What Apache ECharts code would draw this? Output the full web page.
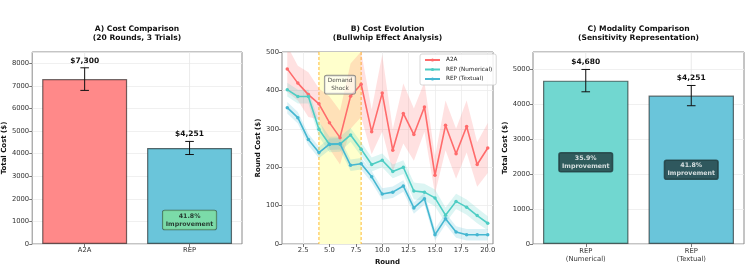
<!DOCTYPE html>
<html><head><meta charset="utf-8">
<script src="https://cdn.jsdelivr.net/npm/echarts@6/dist/echarts.min.js"></script>
<style>html,body{margin:0;padding:0;background:#fff}#c{width:753px;height:274px}</style>
</head><body><div id="c"></div>
<script>
// ---- Panel A data ----
const costCategories = ['A2A', 'REP'];
const costMeans = [7300, 4251];
const costErrors = [500, 290];
const costImprovement = '41.8%';

// ---- Panel B data ----
const rounds = [1,2,3,4,5,6,7,8,9,10,11,12,13,14,15,16,17,18,19,20];
const a2aRound = [456,419,389,365,316,277,385,416,292,393,244,340,285,357,179,309,235,306,207,250];
const a2aStd   = [ 60, 45, 58, 40, 68, 70, 85, 85, 58,100, 55, 78, 68, 65, 48, 65, 65, 68, 58, 65];
const numRound = [402,384,384,299,259,260,284,247,207,218,189,200,138,135,120, 75,111, 96, 74, 54];
const numStd   = [ 18, 18, 18, 20, 20, 20, 18, 18, 18, 18, 18, 18, 22, 22, 22, 20, 20, 20, 20, 18];
const txtRound = [355,329,272,238,260,261,205,209,175,130,135,151, 94,118, 24, 66, 31, 24, 24, 24];
const txtStd   = [ 15, 15, 15, 15, 15, 15, 15, 15, 15, 15, 15, 15, 15, 15, 15, 15, 15, 15, 15, 15];
const roundTicks = [2.5, 5, 7.5, 10, 12.5, 15, 17.5, 20];
const shockStart = 4, shockEnd = 8;

// ---- Panel C data ----
const modalityCategories = ['REP\n(Numerical)', 'REP\n(Textual)'];
const modalityMeans = [4680, 4251];
const modalityErrors = [320, 290];
const modalityImprovement = ['35.9%', '41.8%'];

const FONT = '"DejaVu Sans", "Liberation Sans", sans-serif';
const RED = '#FF6B6B', TEAL = '#4ECDC4', BLUE = '#45B7D1';
const grids = [
  {left: 32, top: 52, width: 210, height: 192},
  {left: 282, top: 52, width: 211, height: 192},
  {left: 533, top: 52, width: 211, height: 192}
].map(g => Object.assign(g, {show: true, borderColor: '#8a8a8a', borderWidth: 1, backgroundColor: '#fff'}));

const tickLabel = {fontSize: 6.8, color: '#333', fontFamily: FONT, margin: 3, formatter: v => String(v)};
const axisTick = {show: true, length: 3, lineStyle: {color: '#555', width: 0.8}};
const splitLine = {show: true, lineStyle: {color: '#ececec', width: 0.8}};
const nameStyle = {fontSize: 7, fontWeight: 'bold', color: '#111', fontFamily: FONT};

function errorSeries(xi, means, errs) {
  return {
    type: 'custom', xAxisIndex: xi, yAxisIndex: xi, z: 6, silent: true,
    data: means.map((m, i) => [i, m, errs[i]]),
    renderItem(params, api) {
      const i = api.value(0), m = api.value(1), e = api.value(2);
      const top = api.coord([i, m + e]);
      const bot = api.coord([i, m - e]);
      const cap = 4.3;
      const st = {stroke: '#111', lineWidth: 1};
      return {type: 'group', children: [
        {type: 'line', shape: {x1: top[0], y1: top[1], x2: bot[0], y2: bot[1]}, style: st},
        {type: 'line', shape: {x1: top[0] - cap, y1: top[1], x2: top[0] + cap, y2: top[1]}, style: st},
        {type: 'line', shape: {x1: bot[0] - cap, y1: bot[1], x2: bot[0] + cap, y2: bot[1]}, style: st},
        {type: 'text', x: top[0], y: top[1] - 3,
          style: {text: '$' + m.toLocaleString('en-US'), textAlign: 'center', textVerticalAlign: 'bottom',
                  font: 'bold 7.5px ' + FONT, fill: '#111'}}
      ]};
    }
  };
}

function boxLabel(xi, points, texts, bg, fg, border) {
  return {
    type: 'scatter', xAxisIndex: xi, yAxisIndex: xi, z: 7, silent: true,
    symbolSize: 0,
    data: points.map((p, k) => ({value: p, label: {formatter: texts[k] + '\nImprovement'}})),
    label: {show: true, position: 'inside', fontSize: 6.3, fontWeight: 'bold', fontFamily: FONT,
      color: fg, backgroundColor: bg, borderColor: border, borderWidth: 0.8, borderRadius: 2,
      padding: [2, 3, 1, 3], lineHeight: 8, align: 'center', verticalAlign: 'middle'}
  };
}

function catGridLines(xi, n) {
  return {
    type: 'custom', xAxisIndex: xi, yAxisIndex: xi, z: 1, silent: true,
    data: Array.from({length: n}, (_, i) => [i]),
    renderItem(params, api) {
      const cs = params.coordSys;
      const p = api.coord([api.value(0), 0]);
      return {type: 'line', shape: {x1: p[0], y1: cs.y, x2: p[0], y2: cs.y + cs.height},
        style: {stroke: '#e6e6e6', lineWidth: 0.8}};
    }
  };
}

function bandSeries(mean, std, color) {
  return {
    type: 'custom', xAxisIndex: 1, yAxisIndex: 1, z: 2, silent: true, clip: true,
    data: [[0]],
    renderItem(params, api) {
      const cs = params.coordSys;
      const upper = rounds.map((r, i) => api.coord([r, mean[i] + std[i]]));
      const lower = rounds.map((r, i) => api.coord([r, mean[i] - std[i]])).reverse();
      return {type: 'polygon', shape: {points: upper.concat(lower)},
        clipPath: {type: 'rect', shape: {x: cs.x, y: cs.y, width: cs.width, height: cs.height}},
        style: {fill: color, opacity: 0.2}};
    }
  };
}

function mainLine(name, mean, color) {
  return {type: 'line', name: name, xAxisIndex: 1, yAxisIndex: 1, z: 4,
    data: rounds.map((r, i) => [r, mean[i]]), color: color,
    symbol: 'circle', symbolSize: 3.5, showSymbol: true,
    lineStyle: {width: 1.6, color: color}, itemStyle: {color: color}};
}

const shockSeries = {
  type: 'custom', xAxisIndex: 1, yAxisIndex: 1, z: 1, silent: true,
  data: [[shockStart, shockEnd]],
  renderItem(params, api) {
    const cs = params.coordSys;
    const a = api.coord([api.value(0), 0]), b = api.coord([api.value(1), 0]);
    const dash = {stroke: '#ffae1a', lineWidth: 1, lineDash: [3, 2], opacity: 0.85};
    return {type: 'group', children: [
      {type: 'rect', shape: {x: a[0], y: cs.y, width: b[0] - a[0], height: cs.height}, style: {fill: '#ffffcc'}},
      {type: 'line', shape: {x1: a[0], y1: cs.y, x2: a[0], y2: cs.y + cs.height}, style: dash, z2: 10},
      {type: 'line', shape: {x1: b[0], y1: cs.y, x2: b[0], y2: cs.y + cs.height}, style: dash, z2: 10}
    ]};
  }
};

const option = {
  animation: false,
  backgroundColor: '#fff',
  textStyle: {fontFamily: FONT},
  grid: grids,
  graphic: [
    {type: 'text', x: 137, y: 25, style: {text: 'A) Cost Comparison\n(20 Rounds, 3 Trials)', textAlign: 'center', font: 'bold 7.6px ' + FONT, lineHeight: 8.8, fill: '#111'}},
    {type: 'text', x: 387.5, y: 25, style: {text: 'B) Cost Evolution\n(Bullwhip Effect Analysis)', textAlign: 'center', font: 'bold 7.6px ' + FONT, lineHeight: 8.8, fill: '#111'}},
    {type: 'text', x: 638.5, y: 25, style: {text: 'C) Modality Comparison\n(Sensitivity Representation)', textAlign: 'center', font: 'bold 7.6px ' + FONT, lineHeight: 8.8, fill: '#111'}}
  ],
  legend: {
    data: ['A2A', 'REP (Numerical)', 'REP (Textual)'],
    orient: 'vertical', left: 420, top: 54, itemWidth: 15, itemHeight: 4, itemGap: 3.5,
    padding: [3, 4, 3, 4], backgroundColor: 'rgba(255,255,255,0.85)', borderColor: '#ccc', borderWidth: 0.8, borderRadius: 2,
    textStyle: {fontSize: 5.7, color: '#222', fontFamily: FONT, padding: [0, 0, 0, 1]}
  },
  xAxis: [
    {gridIndex: 0, type: 'category', data: costCategories, boundaryGap: true,
      axisLine: {show: false}, axisTick: Object.assign({}, axisTick, {alignWithLabel: true}),
      axisLabel: Object.assign({}, tickLabel, {formatter: null}), splitLine: {show: false}},
    {gridIndex: 1, type: 'value', min: 0.5, max: 20.5,
      axisLine: {show: false}, axisTick: Object.assign({}, axisTick, {customValues: roundTicks}),
      axisLabel: Object.assign({}, tickLabel, {customValues: roundTicks, formatter: v => v.toFixed(1)}),
      splitLine: splitLine,
      name: 'Round', nameLocation: 'middle', nameGap: 13, nameTextStyle: nameStyle},
    {gridIndex: 2, type: 'category', data: modalityCategories, boundaryGap: true,
      axisLine: {show: false}, axisTick: Object.assign({}, axisTick, {alignWithLabel: true}),
      axisLabel: Object.assign({}, tickLabel, {lineHeight: 8, formatter: null}), splitLine: {show: false}}
  ],
  yAxis: [
    {gridIndex: 0, type: 'value', min: 0, max: 8500, interval: 1000,
      axisLine: {show: false}, axisTick: axisTick, axisLabel: Object.assign({}, tickLabel, {showMaxLabel: false}), splitLine: splitLine,
      name: 'Total Cost ($)', nameLocation: 'middle', nameGap: 24, nameTextStyle: nameStyle},
    {gridIndex: 1, type: 'value', min: 0, max: 500, interval: 100,
      axisLine: {show: false}, axisTick: axisTick, axisLabel: tickLabel, splitLine: splitLine,
      name: 'Round Cost ($)', nameLocation: 'middle', nameGap: 20, nameTextStyle: nameStyle},
    {gridIndex: 2, type: 'value', min: 0, max: 5500, interval: 1000,
      axisLine: {show: false}, axisTick: axisTick, axisLabel: Object.assign({}, tickLabel, {showMaxLabel: false}), splitLine: splitLine,
      name: 'Total Cost ($)', nameLocation: 'middle', nameGap: 24, nameTextStyle: nameStyle}
  ],
  series: [
    catGridLines(0, costCategories.length),
    {type: 'bar', xAxisIndex: 0, yAxisIndex: 0, barWidth: '81%', z: 3, silent: true,
      data: costMeans.map((v, i) => ({value: v, itemStyle: {color: ['#ff8989', '#6ac5da'][i]}})),
      itemStyle: {borderColor: 'rgba(0,0,0,0.55)', borderWidth: 1.2}},
    errorSeries(0, costMeans, costErrors),
    boxLabel(0, [[1, costMeans[1] * 0.25]], [costImprovement], '#80e09c', '#111', '#3a5a44'),

    shockSeries,
    bandSeries(a2aRound, a2aStd, RED),
    bandSeries(numRound, numStd, TEAL),
    bandSeries(txtRound, txtStd, BLUE),
    mainLine('A2A', a2aRound, RED),
    mainLine('REP (Numerical)', numRound, TEAL),
    mainLine('REP (Textual)', txtRound, BLUE),
    {type: 'scatter', xAxisIndex: 1, yAxisIndex: 1, z: 7, silent: true, symbolSize: 0,
      data: [[(shockStart + shockEnd) / 2, 415]],
      label: {show: true, position: 'inside', formatter: 'Demand\nShock', fontSize: 5.8, color: '#222', fontFamily: FONT,
        backgroundColor: 'rgba(255,255,255,0.75)', borderColor: '#777', borderWidth: 0.8, borderRadius: 2,
        padding: [2, 3, 1, 3], lineHeight: 7.5, align: 'center', verticalAlign: 'middle'}},

    catGridLines(2, modalityCategories.length),
    {type: 'bar', xAxisIndex: 2, yAxisIndex: 2, barWidth: '81%', z: 3, silent: true,
      data: modalityMeans.map((v, i) => ({value: v, itemStyle: {color: ['#71d7d0', '#6ac5da'][i]}})),
      itemStyle: {borderColor: 'rgba(0,0,0,0.55)', borderWidth: 1.2}},
    errorSeries(2, modalityMeans, modalityErrors),
    boxLabel(2, modalityMeans.map((m, i) => [i, m / 2]), modalityImprovement, '#213c3f', '#fff', '#213c3f')
  ]
};
const chart = echarts.init(document.getElementById('c'), null, {renderer: 'canvas'});
chart.setOption(option);
</script></body></html>
